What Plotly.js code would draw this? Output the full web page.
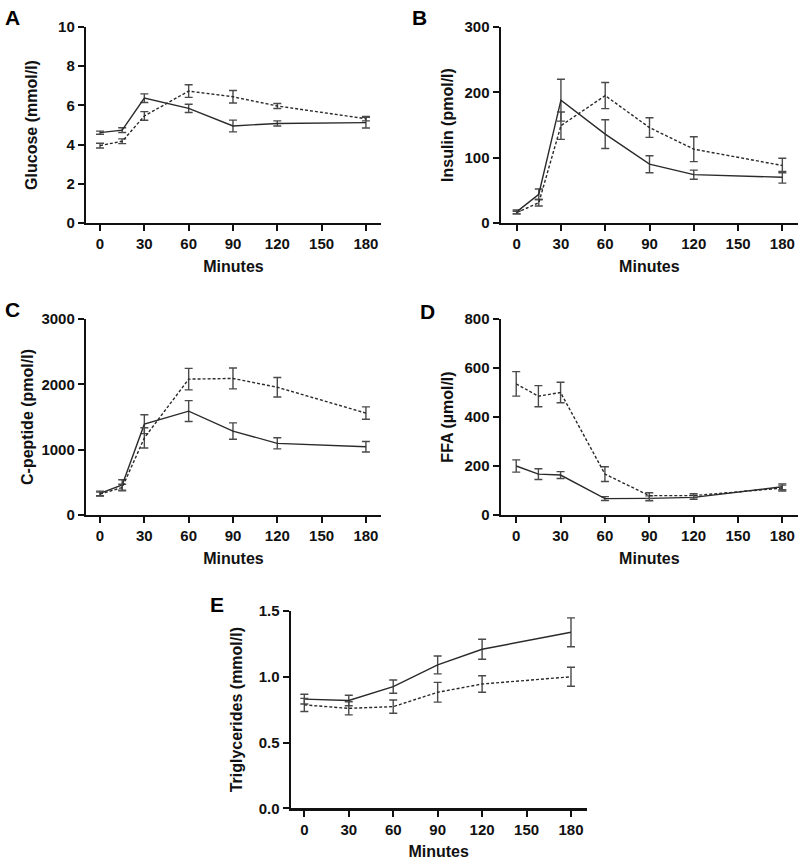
<!DOCTYPE html>
<html>
<head>
<meta charset="utf-8">
<script src="https://cdn.plot.ly/plotly-3.0.1.min.js"></script>
<style>html,body{margin:0;padding:0;background:#fff;}#chart{width:800px;height:860px;}</style>
</head>
<body>
<div id="chart"></div>
<script>
// ---- data ----
const minutes = [0, 15, 30, 60, 90, 120, 180];
const minutesTG = [0, 30, 60, 90, 120, 180];
const xTickVals = [0, 30, 60, 90, 120, 150, 180];

const glucoseSolid = [4.61, 4.74, 6.37, 5.85, 4.95, 5.08, 5.12];
const glucoseSolidErr = [0.08, 0.12, 0.22, 0.21, 0.30, 0.13, 0.27];
const glucoseDashed = [3.95, 4.17, 5.46, 6.73, 6.44, 5.97, 5.32];
const glucoseDashedErr = [0.12, 0.12, 0.22, 0.32, 0.32, 0.13, 0.11];

const insulinSolid = [17, 44, 188, 136, 90, 74, 70];
const insulinSolidErr = [3, 8, 32, 22, 13, 7, 9];
const insulinDashed = [16, 31, 149, 195, 146, 113, 88];
const insulinDashedErr = [2, 5, 21, 20, 15, 19, 11];

const cpepSolid = [330, 460, 1390, 1590, 1285, 1097, 1045];
const cpepSolidErr = [35, 80, 145, 160, 125, 85, 80];
const cpepDashed = [320, 420, 1180, 2080, 2090, 1955, 1560];
const cpepDashedErr = [30, 50, 155, 165, 160, 150, 95];

const ffaSolid = [200, 167, 163, 67, 68, 72, 115];
const ffaSolidErr = [25, 22, 14, 8, 10, 8, 12];
const ffaDashed = [535, 485, 500, 167, 79, 79, 110];
const ffaDashedErr = [50, 43, 42, 30, 12, 8, 12];

const tgSolid = [0.83, 0.82, 0.925, 1.09, 1.209, 1.338];
const tgSolidErr = [0.037, 0.04, 0.05, 0.068, 0.076, 0.11];
const tgDashed = [0.786, 0.76, 0.773, 0.882, 0.945, 1.0];
const tgDashedErr = [0.05, 0.05, 0.05, 0.075, 0.063, 0.072];

const panelLetters = ['A', 'B', 'C', 'D', 'E'];
const yTitles = ['Glucose (mmol/l)', 'Insulin (pmol/l)', 'C-peptide (pmol/l)', 'FFA (µmol/l)', 'Triglycerides (mmol/l)'];
const xTitle = 'Minutes';

// ---- styling ----
const FONT = 'Arial, "Liberation Sans", sans-serif';
const LINE_COLOR = '#2a2a2a';
const ERR_COLOR = '#4a4a4a';

function series(x, y, err, dashed, axIdx) {
  const s = axIdx === 1 ? '' : String(axIdx);
  return {
    type: 'scatter', mode: 'lines', x: x, y: y,
    xaxis: 'x' + s, yaxis: 'y' + s,
    line: {color: LINE_COLOR, width: 1.4, dash: dashed ? '3px,2px' : 'solid'},
    error_y: {type: 'data', array: err, visible: true, color: ERR_COLOR, thickness: 1.4, width: 4},
    showlegend: false, hoverinfo: 'skip'
  };
}

const data = [
  series(minutes, glucoseSolid, glucoseSolidErr, false, 1),
  series(minutes, glucoseDashed, glucoseDashedErr, true, 1),
  series(minutes, insulinSolid, insulinSolidErr, false, 2),
  series(minutes, insulinDashed, insulinDashedErr, true, 2),
  series(minutes, cpepSolid, cpepSolidErr, false, 3),
  series(minutes, cpepDashed, cpepDashedErr, true, 3),
  series(minutes, ffaSolid, ffaSolidErr, false, 4),
  series(minutes, ffaDashed, ffaDashedErr, true, 4),
  series(minutesTG, tgSolid, tgSolidErr, false, 5),
  series(minutesTG, tgDashed, tgDashedErr, true, 5)
];

const W = 800, H = 860;
// plot boxes in px: [left, right, top, bottom]
const boxes = [
  [86, 381, 27, 223],
  [500.7, 798, 27, 223],
  [86, 381, 319, 515],
  [500.7, 798, 319, 515],
  [290.7, 586.7, 611, 808.3]
];
const xRanges = [[-9.5, 190.2], [-10.8, 190.6], [-9.5, 190.2], [-10.5, 190.6], [-9.2, 190.6]];
const yRanges = [[0, 10], [0, 300], [0, 3000], [0, 800], [0, 1.5]];
const yDticks = [2, 100, 1000, 200, 0.5];
const yFormats = ['d', 'd', 'd', 'd', '.1f'];
const yStandoffs = [17, 7, 4, 7, 12];
const letterPos = [[3, 4], [410, 4], [3, 296], [418, 298], [208, 591]];

const tickFont = {family: FONT, size: 15, color: '#111', weight: 'bold'};
const titleFont = {family: FONT, size: 16, color: '#111', weight: 'bold'};

const layout = {
  width: W, height: H,
  margin: {l: 0, r: 0, t: 0, b: 0},
  paper_bgcolor: '#fff', plot_bgcolor: '#fff',
  showlegend: false,
  annotations: []
};

boxes.forEach((b, i) => {
  const s = i === 0 ? '' : String(i + 1);
  layout['xaxis' + s] = {
    domain: [b[0] / W, b[1] / W],
    anchor: 'y' + s,
    range: xRanges[i],
    tickvals: xTickVals,
    ticks: 'outside', ticklen: 6, tickwidth: 2, tickcolor: '#111',
    showline: true, linecolor: '#111', linewidth: 2.2,
    showgrid: false, zeroline: false,
    tickfont: tickFont,
    title: {text: xTitle, font: titleFont, standoff: 10}
  };
  layout['yaxis' + s] = {
    domain: [1 - b[3] / H, 1 - b[2] / H],
    anchor: 'x' + s,
    range: yRanges[i],
    tick0: 0, dtick: yDticks[i], tickformat: yFormats[i],
    ticks: 'outside', ticklen: 6, tickwidth: 2, tickcolor: '#111',
    showline: true, linecolor: '#111', linewidth: 2.2,
    showgrid: false, zeroline: false,
    tickfont: tickFont,
    title: {text: yTitles[i], font: titleFont, standoff: yStandoffs[i]}
  };
  layout.annotations.push({
    text: panelLetters[i], xref: 'paper', yref: 'paper',
    x: letterPos[i][0] / W, y: 1 - letterPos[i][1] / H,
    xanchor: 'left', yanchor: 'top', showarrow: false,
    font: {family: FONT, size: 21, color: '#000', weight: 'bold'}
  });
});

Plotly.newPlot('chart', data, layout, {staticPlot: true, displayModeBar: false});
</script>
</body>
</html>
